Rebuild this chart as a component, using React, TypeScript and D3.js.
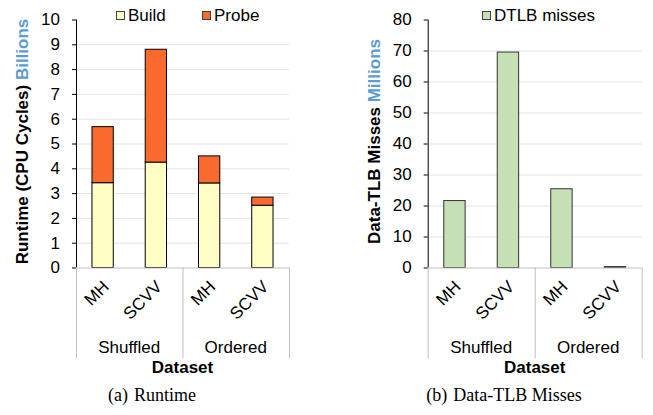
import React, { useEffect, useRef } from 'react';
import * as d3 from 'd3';

// categories, groups and values
const categories = ['MH', 'SCVV', 'MH', 'SCVV'];
const groups = ['Shuffled', 'Ordered'];
const buildValues = [3.42, 4.25, 3.41, 2.51];
const probeValues = [2.26, 4.55, 1.09, 0.33];
const dtlbValues = [21.6, 69.5, 25.4, 0.3];

const FONT = 'Liberation Sans, Arial, sans-serif';
const SERIF = 'Liberation Serif, Times New Roman, serif';
const BLUE = '#5b9bd5';

const drawPanel = (svg, opts) => {
  const { x0, x1, yTop, yBottom, max, step, title, unit, caption, legend, series } = opts;
  const g = svg.append('g');

  const x = d3
    .scaleBand()
    .domain(categories.map((c, i) => i))
    .range([x0, x1])
    .paddingInner(0.6)
    .paddingOuter(0.3);
  const y = d3.scaleLinear().domain([0, max]).range([yBottom, yTop]);
  const ticks = y.ticks(max / step);

  // gridlines
  g.selectAll('line.grid')
    .data(ticks.filter(t => t > 0 && t < max))
    .enter()
    .append('line')
    .attr('x1', x0)
    .attr('x2', x1)
    .attr('y1', d => y(d) + 0.5)
    .attr('y2', d => y(d) + 0.5)
    .attr('stroke', '#e3e3e3')
    .attr('stroke-width', 1);

  // bars
  series.forEach(s => {
    g.selectAll(null)
      .data(s.data)
      .enter()
      .append('rect')
      .attr('x', (d, i) => x(i))
      .attr('width', x.bandwidth())
      .attr('y', d => y(d[1]))
      .attr('height', d => Math.max(0.5, y(d[0]) - y(d[1])))
      .attr('fill', s.color)
      .attr('stroke', s.stroke)
      .attr('stroke-width', 1);
  });

  // y axis
  g.append('line')
    .attr('x1', x0 + 0.5)
    .attr('x2', x0 + 0.5)
    .attr('y1', yTop)
    .attr('y2', yBottom)
    .attr('stroke', '#000');
  g.selectAll('line.tick')
    .data(ticks)
    .enter()
    .append('line')
    .attr('x1', x0 - 4)
    .attr('x2', x0)
    .attr('y1', d => y(d) + 0.5)
    .attr('y2', d => y(d) + 0.5)
    .attr('stroke', '#000');
  g.selectAll('text.tick')
    .data(ticks)
    .enter()
    .append('text')
    .attr('x', x0 - 16)
    .attr('y', d => y(d))
    .attr('dy', '0.35em')
    .attr('text-anchor', 'end')
    .style('font', `17px ${FONT}`)
    .text(d => d);

  // x axis + group separators
  g.append('line')
    .attr('x1', x0)
    .attr('x2', x1)
    .attr('y1', yBottom + 0.5)
    .attr('y2', yBottom + 0.5)
    .attr('stroke', '#bfbfbf');
  const sepX = [x0, (x0 + x1) / 2, x1];
  g.selectAll('line.sep')
    .data(sepX)
    .enter()
    .append('line')
    .attr('x1', d => d + 0.5)
    .attr('x2', d => d + 0.5)
    .attr('y1', yBottom)
    .attr('y2', yBottom + 91)
    .attr('stroke', '#bfbfbf');

  // rotated category labels
  g.selectAll('text.cat')
    .data(categories)
    .enter()
    .append('text')
    .attr('transform', (d, i) => `translate(${x(i) + x.bandwidth() / 2 + 3},${yBottom + 16}) rotate(-45)`)
    .attr('text-anchor', 'end')
    .attr('dy', '0.35em')
    .style('font', `17px ${FONT}`)
    .text(d => d);

  g.selectAll('text.group')
    .data(groups)
    .enter()
    .append('text')
    .attr('x', (d, i) => (sepX[i] + sepX[i + 1]) / 2)
    .attr('y', yBottom + 85)
    .attr('text-anchor', 'middle')
    .style('font', `17px ${FONT}`)
    .text(d => d);

  g.append('text')
    .attr('x', (x0 + x1) / 2)
    .attr('y', yBottom + 105)
    .attr('text-anchor', 'middle')
    .style('font', `bold 17px ${FONT}`)
    .text('Dataset');

  // y title
  const yt = g
    .append('text')
    .attr('transform', `translate(${x0 - 48},${(yTop + yBottom) / 2 - 2}) rotate(-90)`)
    .attr('text-anchor', 'middle')
    .style('font', `bold 17px ${FONT}`);
  yt.append('tspan').text(title + ' ');
  yt.append('tspan').attr('fill', BLUE).text(unit);

  // legend
  legend.forEach(l => {
    g.append('rect')
      .attr('x', l.x + 0.5)
      .attr('y', 11.5)
      .attr('width', 8)
      .attr('height', 8)
      .attr('fill', l.color)
      .attr('stroke', '#404040');
    g.append('text')
      .attr('x', l.x + 12)
      .attr('y', 21)
      .style('font', `17px ${FONT}`)
      .text(l.label);
  });

  // caption
  const cap = g
    .append('text')
    .attr('x', opts.captionX)
    .attr('y', 401)
    .attr('text-anchor', 'middle')
    .style('font', `18px ${SERIF}`);
  cap.append('tspan').text(caption[0]);
  cap.append('tspan').attr('dx', 6).text(caption[1]);
};

const App = () => {
  const ref = useRef(null);

  useEffect(() => {
    const svg = d3.select(ref.current);
    svg.selectAll('*').remove();

    const stacked = d3.stack().keys(['build', 'probe'])(
      buildValues.map((b, i) => ({ build: b, probe: probeValues[i] }))
    );

    drawPanel(svg, {
      x0: 76,
      x1: 289,
      yTop: 19.5,
      yBottom: 267.5,
      max: 10,
      step: 1,
      title: 'Runtime (CPU Cycles)',
      unit: 'Billions',
      caption: ['(a)', 'Runtime'],
      captionX: 152,
      legend: [
        { x: 116, label: 'Build', color: '#ffffc5' },
        { x: 202, label: 'Probe', color: '#f86a2d' }
      ],
      series: [
        { data: stacked[0], color: '#ffffc5', stroke: '#000' },
        { data: stacked[1], color: '#f86a2d', stroke: '#000' }
      ]
    });

    drawPanel(svg, {
      x0: 427.7,
      x1: 641.7,
      yTop: 19.5,
      yBottom: 267.5,
      max: 80,
      step: 10,
      title: 'Data-TLB Misses',
      unit: 'Millions',
      caption: ['(b)', 'Data-TLB Misses'],
      captionX: 504,
      legend: [{ x: 482, label: 'DTLB misses', color: '#c5e0b4' }],
      series: [{ data: dtlbValues.map(v => [0, v]), color: '#c5e0b4', stroke: '#333' }]
    });
  }, []);

  return (
    <svg
      ref={ref}
      width={653}
      height={415}
      style={{ position: 'absolute', left: 0, top: 0, background: '#fff' }}
    />
  );
};

export default App;
